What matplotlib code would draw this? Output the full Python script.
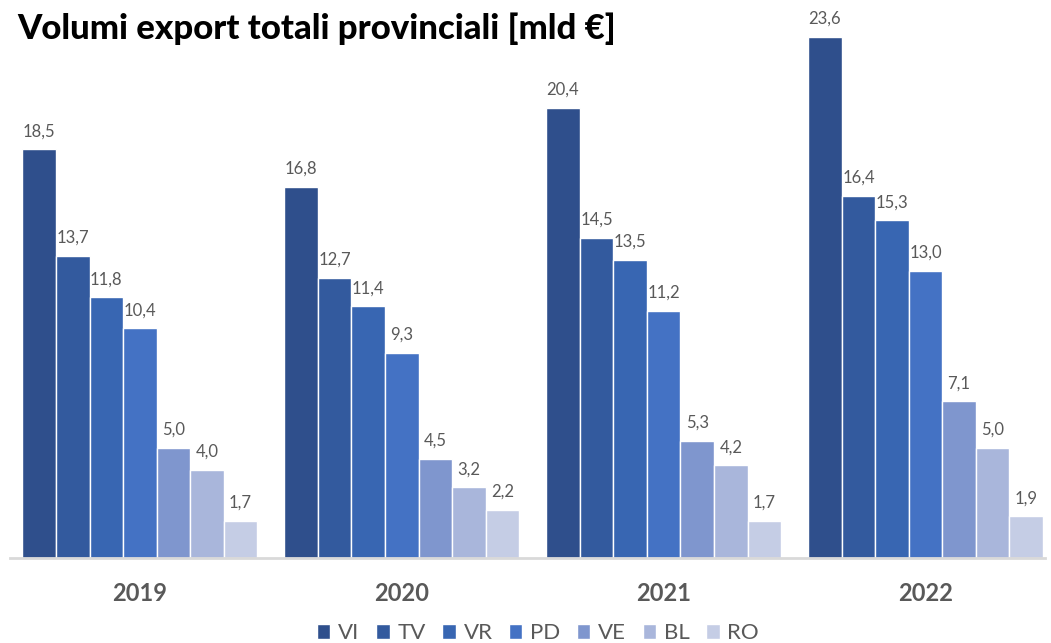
import numpy as np
import matplotlib.pyplot as plt

# Data
years = ["2019", "2020", "2021", "2022"]
provinces = ["VI", "TV", "VR", "PD", "VE", "BL", "RO"]
vi = [18.5, 16.8, 20.4, 23.6]
tv = [13.7, 12.7, 14.5, 16.4]
vr = [11.8, 11.4, 13.5, 15.3]
pd_ = [10.4, 9.3, 11.2, 13.0]
ve = [5.0, 4.5, 5.3, 7.1]
bl = [4.0, 3.2, 4.2, 5.0]
ro = [1.7, 2.2, 1.7, 1.9]
series = [vi, tv, vr, pd_, ve, bl, ro]
colors = ["#2F4F8C", "#335A9E", "#3866B2", "#4472C4", "#7F96CE", "#A9B6DB", "#C5CDE5"]

plt.rcParams['font.family'] = ['Lato', 'DejaVu Sans']

fig = plt.figure(figsize=(10.51, 6.43), dpi=100)
ax = fig.add_axes([0.0095, 0.132, 0.9845, 0.821])

x = np.arange(len(years))
n = len(series)
group_w = 0.897
w = group_w / n
for i, (vals, col, name) in enumerate(zip(series, colors, provinces)):
    pos = x - group_w / 2 + w * (i + 0.5)
    ax.bar(pos, vals, width=w, color=col, edgecolor="white", linewidth=1, label=name)
    for px, v in zip(pos, vals):
        ax.text(px, v + 0.45, f"{v:.1f}".replace(".", ","), ha="center", va="bottom",
                fontsize=12, color="#595959", clip_on=False)

ax.set_xlim(-0.496, 3.455)
ax.set_ylim(0, 23.9)
for s in ["top", "right", "left"]:
    ax.spines[s].set_visible(False)
ax.spines["bottom"].set_color("#D9D9D9")
ax.spines["bottom"].set_linewidth(2)
ax.set_yticks([])
ax.set_xticks(x)
ax.set_xticklabels(years, fontsize=17, fontweight="bold", color="#595959")
ax.tick_params(axis="x", length=0, pad=17)

fig.text(0.016, 0.955, "Volumi export totali provinciali [mld €]", fontsize=25,
         fontweight="black", color="black", ha="left", va="center")

leg = fig.legend(loc="center", bbox_to_anchor=(0.512, 0.015), ncol=7, frameon=False,
                 fontsize=16, handlelength=0.6, handleheight=0.6, handletextpad=0.35,
                 columnspacing=0.75, labelcolor="#595959")

fig.savefig("out.png", dpi=100)
